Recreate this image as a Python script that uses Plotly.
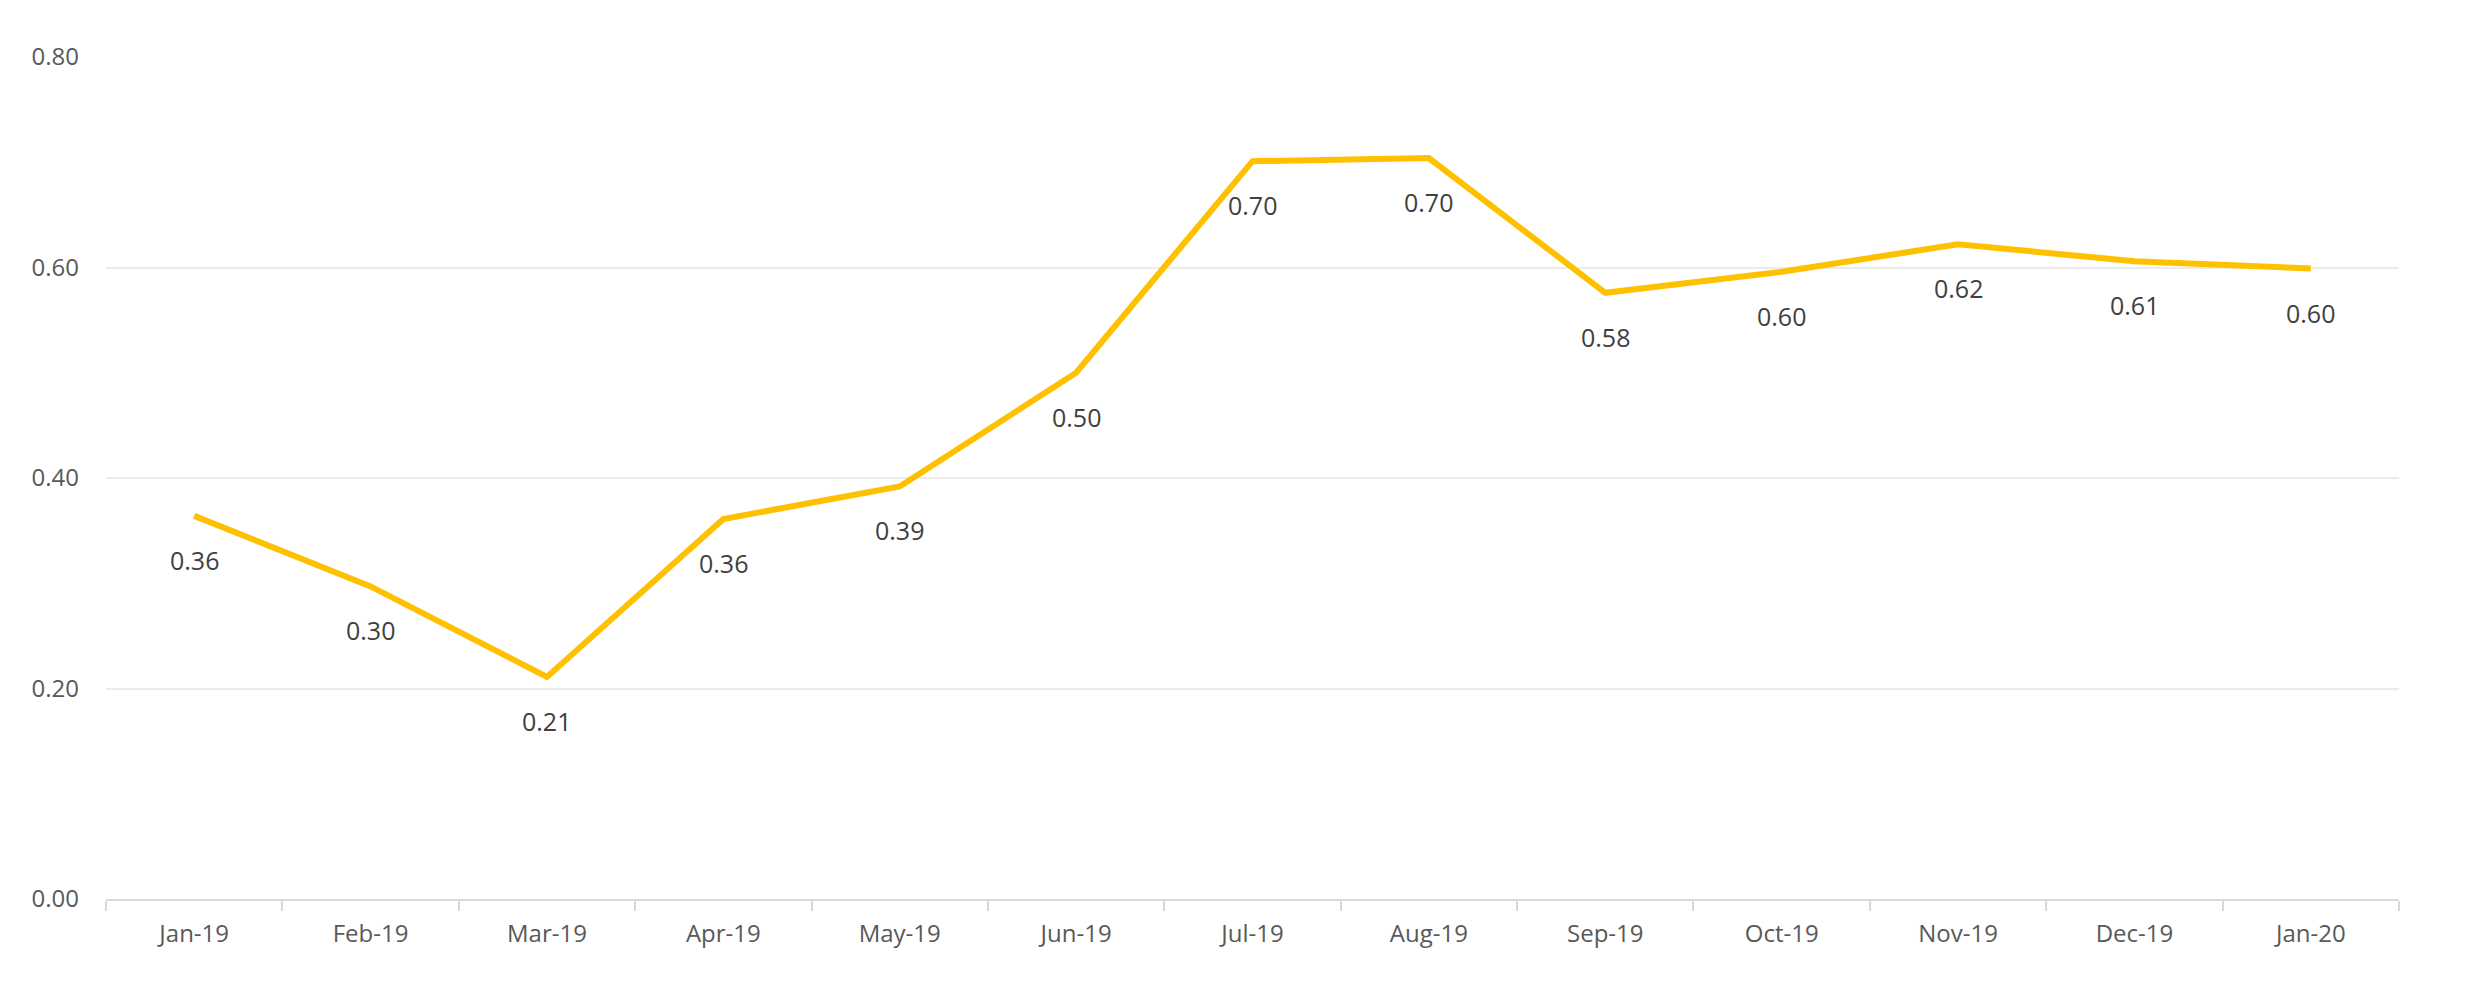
import plotly.graph_objects as go

months = ["Jan-19", "Feb-19", "Mar-19", "Apr-19", "May-19", "Jun-19", "Jul-19",
          "Aug-19", "Sep-19", "Oct-19", "Nov-19", "Dec-19", "Jan-20"]
values = [0.364, 0.297, 0.211, 0.361, 0.392, 0.500, 0.701,
          0.704, 0.576, 0.596, 0.622, 0.606, 0.599]
y_ticks = [0.0, 0.2, 0.4, 0.6, 0.8]

fig = go.Figure()
fig.add_trace(go.Scatter(
    x=months, y=values, mode="lines",
    line=dict(color="#FFC000", width=6),
    hoverinfo="skip", showlegend=False,
))

for m, v in zip(months, values):
    fig.add_annotation(x=m, y=v, text=f"{v:.2f}", showarrow=False,
                       yshift=-44, font=dict(family="Open Sans", size=25, color="#404040"))

fig.update_layout(
    width=2472, height=998,
    margin=dict(l=98, r=81, t=49, b=107),
    paper_bgcolor="white", plot_bgcolor="white",
    font=dict(family="Open Sans", color="#595959", size=24),
)
fig.update_xaxes(
    type="category", tickson="boundaries", ticks="outside", ticklen=10,
    range=[-0.5, len(months) - 0.5],
    tickcolor="#D9D9D9", tickwidth=2, showline=True, linecolor="#D9D9D9",
    linewidth=2, showgrid=False, ticklabelstandoff=12,
    tickfont=dict(size=24, color="#595959"),
)
fig.update_yaxes(
    range=[0, 0.8], tickvals=y_ticks, tickformat=".2f",
    showgrid=True, gridcolor="#EBEBEB", gridwidth=2, zeroline=False,
    showline=False, ticklabelstandoff=26,
    tickfont=dict(size=24, color="#595959"),
)

fig.write_html("out.html")
